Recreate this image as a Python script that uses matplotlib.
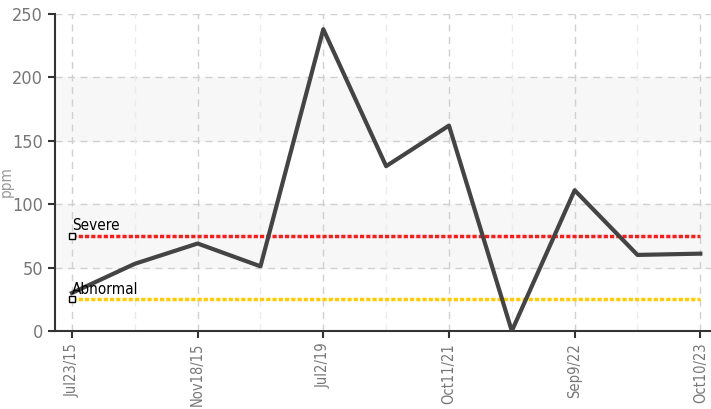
import numpy as np
import matplotlib.pyplot as plt
from matplotlib import font_manager

# data
dates = ['Jul23/15', '', 'Nov18/15', '', 'Jul2/19', '', 'Oct11/21', '', 'Sep9/22', '', 'Oct10/23']
ppm = [30, 53, 69, 51, 238, 130, 162, 0, 111, 60, 61]
limit_names = ['Severe', 'Abnormal']
limit_values = [75, 25]
limit_colors = ['#ff1a1a', '#ffcc00']

# look for a narrow face, the reference uses a condensed font
narrow = [f for f in font_manager.fontManager.ttflist
          if ('Condensed' in f.fname or 'Narrow' in f.fname) and f.weight in (400, 'normal')
          and f.style == 'normal' and 'Bold' not in f.fname]
if narrow:
    fp = font_manager.FontProperties(fname=narrow[0].fname)
else:
    fp = font_manager.FontProperties(family='DejaVu Sans', stretch='condensed')

fig = plt.figure(figsize=(7.11, 4.09), dpi=100)
ax = fig.add_axes([55 / 711, 78 / 409, 656 / 711, 317 / 409])

x = np.arange(len(ppm))

# shaded bands
for lo, hi in [(50, 100), (150, 200)]:
    ax.axhspan(lo, hi, color='#f7f7f7', zorder=0)

# grid
for yy in [50, 100, 150, 200, 250]:
    ax.axhline(yy, color='#d0d0d0', lw=1, ls=(0, (5, 4)), zorder=1)
for xi in x:
    c = '#d0d0d0' if xi % 2 == 0 else '#ececec'
    ax.axvline(xi, color=c, lw=1, ls=(0, (5, 4)), zorder=1)

# limit lines
for name, val, col in zip(limit_names, limit_values, limit_colors):
    ax.plot([x[0], x[-1]], [val, val], color=col, lw=2.5, ls=(0, (1.2, 0.6)), zorder=2)
    ax.plot(x[0], val, marker='s', ms=5, mfc='white', mec='black', mew=1, zorder=4)
    ax.text(x[0], val + 2, name, fontproperties=fp, fontsize=11, color='black',
            ha='left', va='bottom', zorder=5)

ax.plot(x, ppm, color='#444444', lw=3, zorder=3)

ax.set_xlim(-0.27, 10.17)
ax.set_ylim(0, 250)
ax.set_xticks(x[::2])
ax.set_xticklabels([d for d in dates if d], rotation=90, fontproperties=fp,
                   fontsize=10.5, color='#777777')
ax.set_yticks([0, 50, 100, 150, 200, 250])
ax.set_yticklabels(['0', '50', '100', '150', '200', '250'], fontproperties=fp,
                   fontsize=13, color='#777777')
ax.tick_params(axis='y', length=5, width=1.5, color='#333333')
ax.tick_params(axis='x', length=5, width=1.5, color='#333333')
ax.set_ylabel('ppm', fontproperties=fp, fontsize=11, color='#999999')
ax.yaxis.set_label_coords(-0.063, 0.47)

for s in ['top', 'right']:
    ax.spines[s].set_visible(False)
for s in ['left', 'bottom']:
    ax.spines[s].set_color('#333333')
    ax.spines[s].set_linewidth(1.5)

fig.savefig('out.png', dpi=100)
